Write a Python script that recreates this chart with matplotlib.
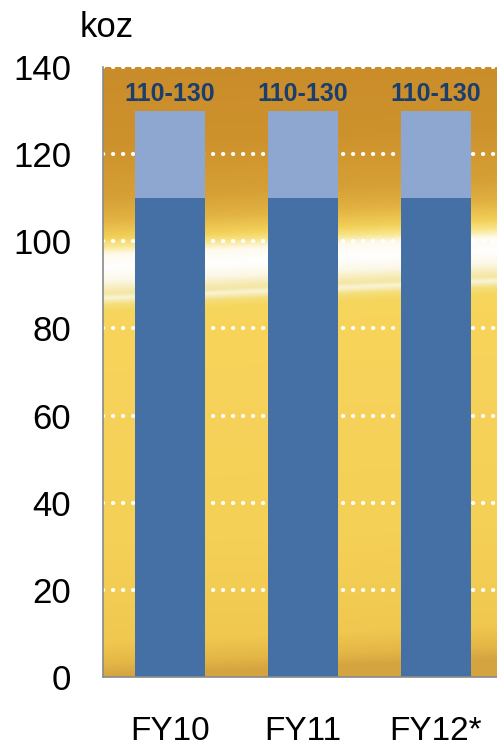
import numpy as np
import matplotlib
matplotlib.use("Agg")
import matplotlib.pyplot as plt
from matplotlib.colors import to_rgb

categories = ["FY10", "FY11", "FY12*"]
low_values = [110, 110, 110]
high_values = [130, 130, 130]
range_labels = ["110-130", "110-130", "110-130"]
y_ticks = [0, 20, 40, 60, 80, 100, 120, 140]
unit_label = "koz"

plt.rcParams['font.family'] = ['Liberation Sans', 'DejaVu Sans']

fig = plt.figure(figsize=(4.97, 7.46), dpi=100)
ax = fig.add_axes([103/497, 1 - 677/746, 1 - 103/497, (677 - 67)/746])

xlim = (-0.505, 2.46)
ylim = (0, 140)

# background gradient (decorative)
stops = [
    (0, "#D4A440"), (3, "#E4B646"), (8, "#F0C850"), (30, "#F5D056"),
    (60, "#F6D25A"), (80, "#F8D45A"), (84, "#F6D65E"), (85.5, "#F4DE7C"),
    (87, "#FAF4D6"), (88, "#F4E6A2"), (89.5, "#F8EEC2"), (91, "#FCF8E8"),
    (94, "#FFFFFF"), (97, "#FEFAEC"), (99, "#F8E488"), (101, "#F2D058"),
    (105, "#E2B242"), (110, "#D6A036"), (122, "#CE922C"), (140, "#C98C2A"),
]
sv = np.array([s[0] for s in stops], float)
sc = np.array([to_rgb(s[1]) for s in stops])
ny, nx = 700, 200
yy = np.linspace(ylim[1], ylim[0], ny)[:, None]
xx = np.linspace(0, 1, nx)[None, :]
yv = yy - 4 * xx
img = np.zeros((ny, nx, 3))
for c in range(3):
    img[..., c] = np.interp(yv, sv, sc[:, c])
ax.imshow(img, extent=[xlim[0], xlim[1], ylim[0], ylim[1]], aspect='auto',
          zorder=0, interpolation='bilinear')

x = np.arange(len(categories))
width = 0.528
diff = [h - l for h, l in zip(high_values, low_values)]
ax.bar(x, low_values, width, color="#4470A6", zorder=3)
ax.bar(x, diff, width, bottom=low_values, color="#8DA7D0", zorder=3)
for xi, h, lab in zip(x, high_values, range_labels):
    ax.text(xi, h + 1.1, lab, ha='center', va='bottom', fontsize=18,
            fontweight='bold', color="#1A3E6E", zorder=4)

for t in y_ticks[1:]:
    ax.axhline(t, color='white', linewidth=3.0, linestyle=(0, (0.05, 2.35)),
               dash_capstyle='round', zorder=2)

ax.set_xlim(*xlim)
ax.set_ylim(*ylim)
ax.set_yticks(y_ticks)
ax.set_xticks(x)
ax.set_xticklabels(categories, fontsize=24)
ax.tick_params(axis='y', length=0, pad=23, labelsize=25)
ax.tick_params(axis='x', length=0, pad=28)
for s in ['top', 'right']:
    ax.spines[s].set_visible(False)
for s in ['left', 'bottom']:
    ax.spines[s].set_color('#8A8A8A')
    ax.spines[s].set_linewidth(1.2)
    ax.spines[s].set_zorder(5)

fig.text(80/497, 1 - 11/746, unit_label, ha='left', va='top', fontsize=25)

fig.savefig("out.png", dpi=100)
